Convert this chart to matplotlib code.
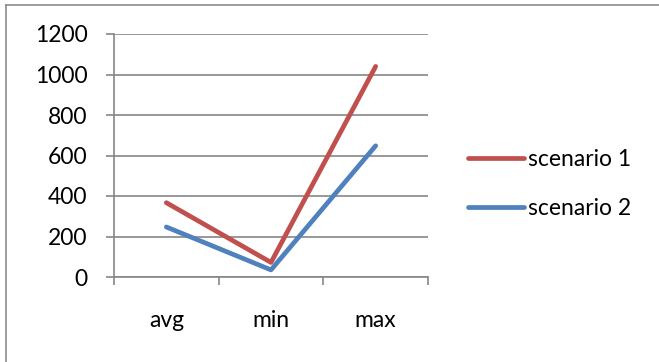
import numpy as np
import matplotlib
matplotlib.use("Agg")
import matplotlib.pyplot as plt
from matplotlib.lines import Line2D

# data
categories = ["avg", "min", "max"]
scenario_1 = [367, 72, 1040]
scenario_2 = [247, 35, 648]
series_names = ["scenario 1", "scenario 2"]
y_ticks = [0, 200, 400, 600, 800, 1000, 1200]

RED = "#C0504D"
BLUE = "#4F81BD"
GRID = "#868686"
FS = 16.5

plt.rcParams["font.family"] = ["Lato", "DejaVu Sans"]

W, H = 659, 362
fig = plt.figure(figsize=(W / 100, H / 100), dpi=100)
ax = fig.add_axes([114 / W, 1 - 277 / H, (428 - 114) / W, (277 - 34) / H])

x = np.arange(len(categories)) + 0.5
ax.plot(x, scenario_1, color=RED, lw=3.4, solid_capstyle="round", solid_joinstyle="round", label=series_names[0])
ax.plot(x, scenario_2, color=BLUE, lw=3.4, solid_capstyle="round", solid_joinstyle="round", label=series_names[1])

ax.set_xlim(0, len(categories))
ax.set_ylim(0, 1200)
ax.set_yticks(y_ticks)
ax.yaxis.grid(True, color=GRID, lw=1.2)
ax.set_axisbelow(True)

ax.set_xticks(np.arange(len(categories) + 1))
ax.set_xticklabels([])
ax.set_xticks(x, minor=True)
ax.set_xticklabels(categories, minor=True)
ax.tick_params(axis="x", which="major", length=6, width=1.2, color=GRID)
ax.tick_params(axis="x", which="minor", length=0, pad=24, labelsize=FS)
ax.tick_params(axis="y", length=6, width=1.2, color=GRID, pad=13, labelsize=FS)

for s in ["top", "right"]:
    ax.spines[s].set_visible(False)
for s in ["left", "bottom"]:
    ax.spines[s].set_color(GRID)
    ax.spines[s].set_linewidth(1.2)

leg = fig.legend(loc="center left", bbox_to_anchor=(468 / W, 1 - 184 / H), frameon=False,
                 borderpad=0, borderaxespad=0, fontsize=FS, handlelength=2.45,
                 handletextpad=0.15, labelspacing=1.25)
for h in leg.get_lines():
    h.set_linewidth(3.4)

# outer chart frame (partly cut off in the reference)
fig.add_artist(Line2D([6 / W, 6 / W], [0, 1 - 5 / H], transform=fig.transFigure, color="#8C8C8C", lw=1.2))
fig.add_artist(Line2D([6 / W, 1], [1 - 5 / H, 1 - 5 / H], transform=fig.transFigure, color="#8C8C8C", lw=1.2))

fig.savefig("out.png", dpi=100)
